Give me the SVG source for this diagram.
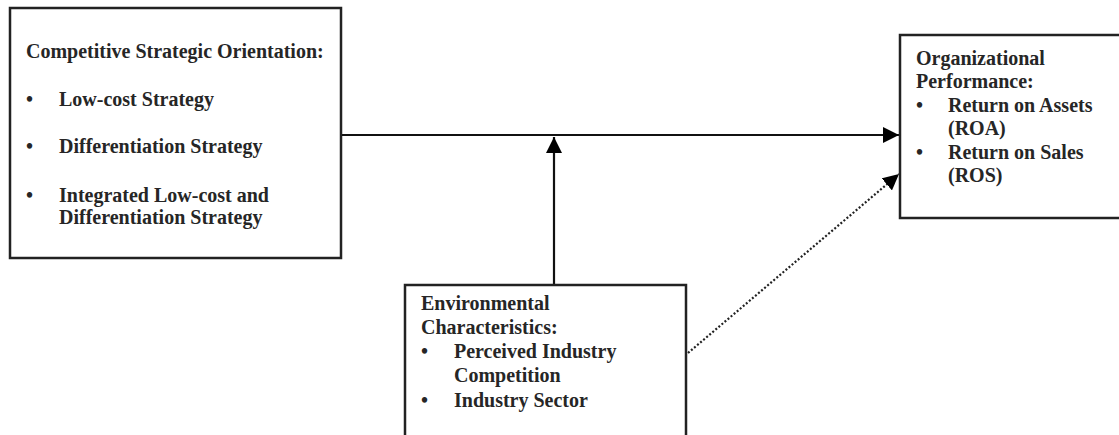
<svg xmlns="http://www.w3.org/2000/svg" width="1119" height="435" viewBox="0 0 1119 435">
  <style>
    .box { fill: #ffffff; stroke: #222222; stroke-width: 2.5; }
    .lbl { font-family: "Liberation Serif", "Times New Roman", serif; font-weight: bold; font-size: 20px; fill: #262626; }
    .conn { stroke: #111111; stroke-width: 2.2; fill: none; }
    .dot { stroke: #222222; stroke-width: 2.2; fill: none; stroke-dasharray: 2 2; }
  </style>
  <defs>
    <marker id="head" viewBox="0 0 16 16" refX="16" refY="8" markerWidth="16" markerHeight="16" markerUnits="userSpaceOnUse" orient="auto">
      <path d="M0,0 L16,8 L0,16 Z" fill="#000000"/>
    </marker>
  </defs>
  <rect width="1119" height="435" fill="#ffffff"/>

  <g id="connectors">
    <line class="conn" x1="341" y1="135" x2="899" y2="135" marker-end="url(#head)"/>
    <line class="conn" x1="554" y1="285" x2="554" y2="137" marker-end="url(#head)"/>
    <line class="dot" x1="688" y1="353" x2="899" y2="174" marker-end="url(#head)"/>
  </g>

  <g id="strategy">
    <rect class="box" x="10" y="8" width="331" height="250"/>
    <text class="lbl" x="26" y="58">Competitive Strategic Orientation:</text>
    <text class="lbl" x="26" y="106">•</text>
    <text class="lbl" x="59" y="106">Low-cost Strategy</text>
    <text class="lbl" x="26" y="153">•</text>
    <text class="lbl" x="59" y="153">Differentiation Strategy</text>
    <text class="lbl" x="26" y="202">•</text>
    <text class="lbl" x="59" y="202">Integrated Low-cost and</text>
    <text class="lbl" x="59" y="224">Differentiation Strategy</text>
  </g>

  <g id="performance">
    <rect class="box" x="900" y="35" width="230" height="183"/>
    <text class="lbl" x="916" y="65">Organizational</text>
    <text class="lbl" x="916" y="88">Performance:</text>
    <text class="lbl" x="916" y="112">•</text>
    <text class="lbl" x="948" y="112">Return on Assets</text>
    <text class="lbl" x="948" y="135">(ROA)</text>
    <text class="lbl" x="916" y="159">•</text>
    <text class="lbl" x="948" y="159">Return on Sales</text>
    <text class="lbl" x="948" y="182">(ROS)</text>
  </g>

  <g id="environment">
    <rect class="box" x="405" y="285" width="281" height="160"/>
    <text class="lbl" x="421" y="310">Environmental</text>
    <text class="lbl" x="421" y="334">Characteristics:</text>
    <text class="lbl" x="421" y="358">•</text>
    <text class="lbl" x="454" y="358">Perceived Industry</text>
    <text class="lbl" x="454" y="382">Competition</text>
    <text class="lbl" x="421" y="407">•</text>
    <text class="lbl" x="454" y="407">Industry Sector</text>
  </g>
</svg>
